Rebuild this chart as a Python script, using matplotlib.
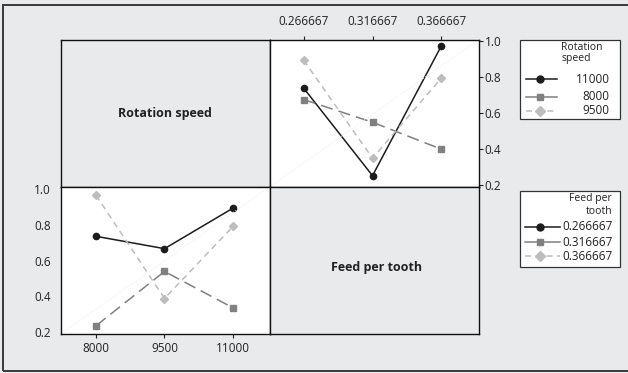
import matplotlib
matplotlib.use('Agg')
import matplotlib.pyplot as plt
from matplotlib.patches import Rectangle
from matplotlib.lines import Line2D

plt.rcParams['font.family'] = ['Open Sans', 'DejaVu Sans']

# data
rotation = [8000, 9500, 11000]
feed = [0.266667, 0.316667, 0.366667]
feed_labels = ['0.266667', '0.316667', '0.366667']

# top-right panel: x = feed per tooth, one line per rotation speed
rot_11000 = [0.74, 0.253, 0.975]
rot_8000 = [0.676, 0.55, 0.40]
rot_9500 = [0.895, 0.35, 0.796]

# bottom-left panel: x = rotation speed, one line per feed per tooth
feed_0266 = [0.735, 0.666, 0.892]
feed_0316 = [0.236, 0.539, 0.336]
feed_0366 = [0.964, 0.388, 0.79]

bg = '#e9eaeb'
c_black = '#1c1c1c'
c_gray = '#808080'
c_light = '#bdbdbd'
styles = [
    dict(color=c_black, marker='o', ls='-', lw=1.1, ms=4.5),
    dict(color=c_gray, marker='s', ls=(0, (8, 4)), lw=1.1, ms=4.5),
    dict(color=c_light, marker='D', ls=(0, (4, 3)), lw=1.1, ms=4.5),
]

W, H = 628, 373
fig = plt.figure(figsize=(W / 100, H / 100), dpi=100)
fig.patch.set_facecolor(bg)


def box(x0, y0, x1, y1):
    # pixel box (top-left origin) -> figure fraction rect
    return [x0 / W, 1 - y1 / H, (x1 - x0) / W, (y1 - y0) / H]


xl, xm, xr = 60.5, 269.5, 478.5
yt, ym, yb = 39.5, 187, 334

ax_tl = fig.add_axes(box(xl, yt, xm, ym))
ax_tr = fig.add_axes(box(xm, yt, xr, ym))
ax_bl = fig.add_axes(box(xl, ym, xm, yb))
ax_br = fig.add_axes(box(xm, ym, xr, yb))

for ax in (ax_tl, ax_br):
    ax.set_facecolor(bg)
    ax.set_xticks([])
    ax.set_yticks([])
for ax in (ax_tl, ax_tr, ax_bl, ax_br):
    for s in ax.spines.values():
        s.set_color('#111111')
        s.set_linewidth(1.0)

ax_tl.text(0.5, 0.5, 'Rotation speed', transform=ax_tl.transAxes,
           ha='center', va='center', fontsize=9, fontweight='bold', color='#222222')
ax_br.text(0.51, 0.45, 'Feed per tooth', transform=ax_br.transAxes,
           ha='center', va='center', fontsize=9, fontweight='bold', color='#222222')

# top-right
ax_tr.set_facecolor('white')
for ys, st in zip([rot_11000, rot_8000, rot_9500], styles):
    ax_tr.plot(feed, ys, **st)
ax_tr.plot([0, 1], [0, 1], transform=ax_tr.transAxes, ls=':', color='#ececec', lw=0.7)
ax_tr.set_xlim(0.2419, 0.3936)
ax_tr.set_ylim(0.19, 1.01)
ax_tr.set_xticks(feed)
ax_tr.set_xticklabels(feed_labels)
ax_tr.set_yticks([0.2, 0.4, 0.6, 0.8, 1.0])
ax_tr.set_yticklabels(['0.2', '0.4', '0.6', '0.8', '1.0'])
ax_tr.xaxis.tick_top()
ax_tr.yaxis.tick_right()
ax_tr.tick_params(axis='x', length=3, pad=5, labelsize=8.5, colors='#222222')
ax_tr.tick_params(axis='y', length=3, pad=1.5, labelsize=8.5, colors='#222222')

# bottom-left
ax_bl.set_facecolor('white')
for ys, st in zip([feed_0266, feed_0316, feed_0366], styles):
    ax_bl.plot(rotation, ys, **st)
ax_bl.plot([0, 1], [0, 1], transform=ax_bl.transAxes, ls=':', color='#ececec', lw=0.7)
ax_bl.set_xlim(7222, 11800)
ax_bl.set_ylim(0.19, 1.01)
ax_bl.set_xticks(rotation)
ax_bl.set_xticklabels([str(r) for r in rotation])
ax_bl.set_yticks([0.2, 0.4, 0.6, 0.8, 1.0])
ax_bl.set_yticklabels(['0.2', '0.4', '0.6', '0.8', '1.0'])
ax_bl.tick_params(axis='x', length=3, pad=3, labelsize=8.5, colors='#222222')
ax_bl.tick_params(axis='y', length=0, pad=7, labelsize=8.5, colors='#222222')


# legends drawn by hand in figure pixel coordinates
def px(x, y):
    return x / W, 1 - y / H


def legend_box(x0, y0, x1, y1):
    fig.patches.append(Rectangle(px(x0, y1), (x1 - x0) / W, (y1 - y0) / H,
                                 transform=fig.transFigure, facecolor='white',
                                 edgecolor='#333333', lw=0.9))


def sample(y, st, x0, x1, xm_):
    fig.lines.append(Line2D([x0 / W, x1 / W], [1 - y / H] * 2, transform=fig.transFigure,
                            color=st['color'], lw=st['lw'],
                            ls='-' if st['marker'] != 'D' else (0, (4, 3))))
    fig.lines.append(Line2D([xm_ / W], [1 - y / H], transform=fig.transFigure,
                            color=st['color'], marker=st['marker'], ms=st['ms'] + 0.5, ls='none'))


legend_box(520, 40, 620, 119)
fig.text(*px(561.5, 52.5), 'Rotation\nspeed', ha='left', va='center', fontsize=7.5,
         linespacing=1.0, color='#222222')
for y, lab, st in zip([79.3, 96.7, 111], ['11000', '8000', '9500'], styles):
    sample(y, st, 526, 557, 540)
    fig.text(*px(609.5, y), lab, ha='right', va='center', fontsize=8.5, color='#222222')

legend_box(520, 190.5, 620, 267)
fig.text(*px(612, 205.5), 'Feed per\ntooth', ha='right', va='center', fontsize=7.5,
         linespacing=1.25, color='#222222')
for y, lab, st in zip([226.7, 242.3, 256], feed_labels, styles):
    sample(y, st, 525, 560, 540)
    fig.text(*px(562.5, y), lab, ha='left', va='center', fontsize=8.5, color='#222222')

# outer frame
fig.patches.append(Rectangle(px(3.5, 370.5), 1.05, (370.5 - 4.5) / H,
                             transform=fig.transFigure, facecolor='none',
                             edgecolor='#3a3a3a', lw=1.4, clip_on=False))

fig.savefig('out.png', dpi=100, facecolor=bg)
